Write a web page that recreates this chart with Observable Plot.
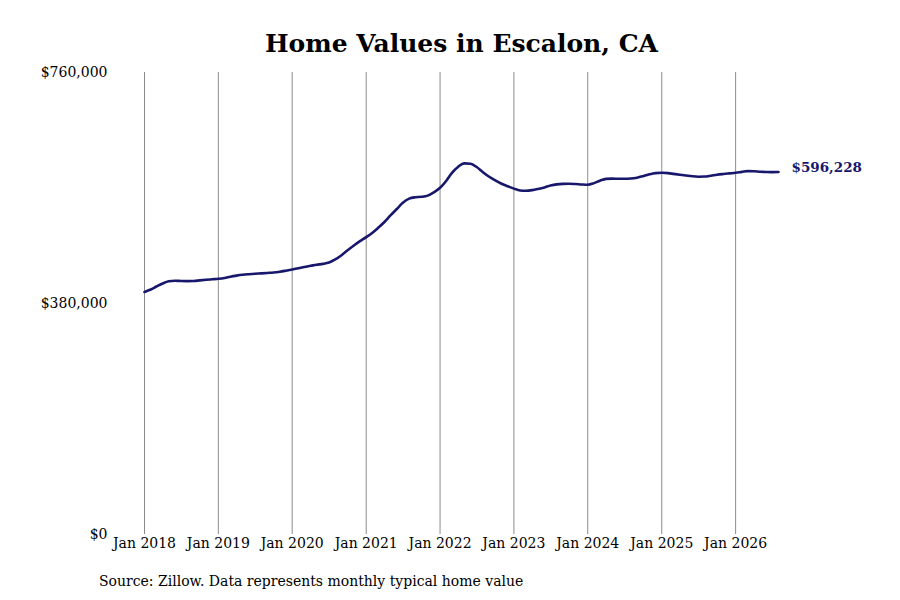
<!DOCTYPE html>
<html>
<head>
<meta charset="utf-8">
<script src="https://cdn.jsdelivr.net/npm/d3@7"></script>
<script src="https://cdn.jsdelivr.net/npm/@observablehq/plot@0.6"></script>
<style>
  html, body { margin: 0; padding: 0; background: #fff; }
  body { width: 900px; height: 600px; font-family: "DejaVu Serif", serif; color: #000; }
  #title { height: 60px; box-sizing: border-box; padding-top: 30px; padding-left: 23px; text-align: center; font-size: 25px; line-height: 28px; font-weight: bold; }
  #chart svg { display: block; }
  #caption { padding-left: 99px; font-size: 14px; line-height: 20px; padding-top: 11px; }
</style>
</head>
<body>
<div id="title">Home Values in Escalon, CA</div>
<div id="chart"></div>
<div id="caption">Source: Zillow. Data represents monthly typical home value</div>
<script>
const startMonth = "2018-01-01";
const values = [
  // 2018
  399000, 403000, 408000, 413000, 416500, 417500, 417000, 416800, 417000, 418000, 419000, 419800,
  // 2019
  420600, 422000, 424000, 425800, 427200, 428200, 429000, 429600, 430300, 431000, 432300, 434000,
  // 2020
  435900, 438000, 440200, 442000, 443800, 445200, 447400, 452500, 459500, 467500, 475400, 482500,
  // 2021
  489100, 496500, 504500, 514000, 524800, 535500, 545600, 552500, 554800, 555500, 557500, 562800,
  // 2022
  570300, 582000, 595000, 605000, 610500, 610000, 604500, 596000, 588500, 582500, 577000, 573000,
  // 2023
  569000, 566000, 565500, 566500, 568500, 571000, 574000, 576000, 576800, 577000, 576500, 575800,
  // 2024
  575300, 578000, 582000, 585000, 585500, 585200, 585100, 585500, 587000, 589500, 592500, 594500,
  // 2025
  595000, 594500, 593200, 591800, 590500, 589200, 588600, 588800, 590200, 591800, 593000, 594000,
  // 2026
  595000, 596500, 597800, 597500, 596800, 596300, 596100, 596228
];
const yTicks = [0, 380000, 760000];
const yDomain = [0, 760000];
const lineColor = "#17176b";

const start = new Date(startMonth + "T00:00:00Z");
const data = values.map((v, i) => ({ date: d3.utcMonth.offset(start, i), value: v }));
const last = data[data.length - 1];
const xTicks = d3.utcYear.range(start, d3.utcMonth.offset(last.date, 1));
const money = d3.format("$,.0f");

const chart = Plot.plot({
  width: 900,
  height: 500,
  marginTop: 12,
  marginBottom: 26,
  marginLeft: 144,
  marginRight: 122,
  style: { fontFamily: "DejaVu Serif, serif", fontSize: "14px", color: "#000", background: "#fff" },
  x: { type: "utc", domain: [start, last.date] },
  y: { domain: yDomain },
  marks: [
    Plot.ruleX(xTicks, { stroke: "#8c8c8c", strokeWidth: 1, y1: yDomain[0], y2: yDomain[1] }),
    Plot.axisX({ ticks: xTicks, tickSize: 0, tickPadding: 4, tickFormat: d3.utcFormat("Jan %Y"), label: null, fontSize: 14 }),
    Plot.axisY({ ticks: yTicks, tickSize: 0, tickPadding: 37, tickFormat: money, label: null, fontSize: 14 }),
    Plot.line(data, { x: "date", y: "value", stroke: lineColor, strokeWidth: 2.6, curve: "monotone-x" }),
    Plot.text([last], { x: "date", y: "value", text: d => money(d.value), dx: 13, dy: -4, textAnchor: "start", fill: lineColor, fontWeight: "bold", fontSize: 13.5 })
  ]
});
document.getElementById("chart").appendChild(chart);
</script>
</body>
</html>
